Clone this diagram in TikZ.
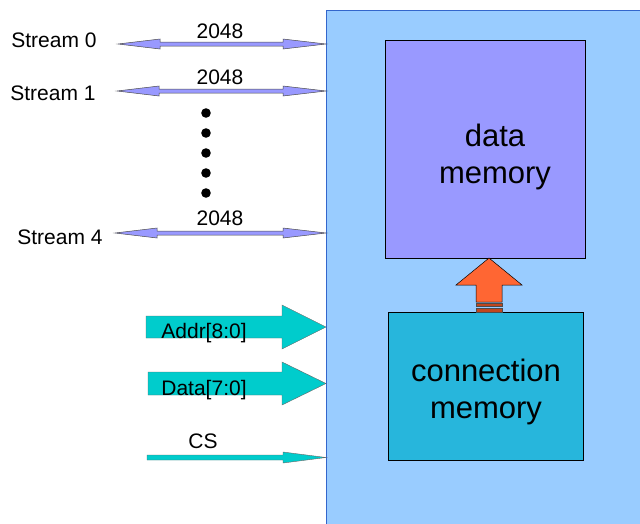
\documentclass[tikz,border=0pt]{standalone}
\usepackage{fontspec}
\setmainfont{Liberation Sans}
\definecolor{bgblue}{HTML}{99CCFF}
\definecolor{edgeblue}{HTML}{3366CC}
\definecolor{lav}{HTML}{9999FF}
\definecolor{cmem}{HTML}{27B6DC}
\definecolor{cyanar}{HTML}{00CCCC}
\definecolor{orng}{HTML}{FF6633}
\definecolor{dorng}{HTML}{C0461E}
\newcommand{\dblarr}[3]{% left x, right x, y
  \filldraw[fill=lav,draw=black!70,line width=0.5pt]
   (#1,#3) -- (#1+42,#3-5) -- (#1+42,#3-2) -- (#2-43,#3-2) -- (#2-43,#3-5) -- (#2,#3)
   -- (#2-43,#3+5) -- (#2-43,#3+2) -- (#1+42,#3+2) -- (#1+42,#3+5) -- cycle;}
\tikzset{lbl/.style={font=\fontsize{21}{25}\selectfont,inner sep=0pt},
  big/.style={font=\fontsize{31}{37}\selectfont,align=center,inner sep=0pt},
  fat/.style={fill=cyanar,draw=black!60,line width=0.4pt}}
\begin{document}
\begin{tikzpicture}[x=1pt,y=-1pt]
\useasboundingbox (0,0) rectangle (640,523);
% main block
\filldraw[fill=bgblue,draw=edgeblue,line width=0.8pt] (326,10) rectangle (660,540);
\node[draw=black,fill=lav,line width=0.5pt,minimum width=200pt,minimum height=218pt,anchor=north west,inner sep=0pt] (dm) at (385,40) {};
\node[big] (dmt) at (495,157) {data\\memory};
\node[draw=black,fill=cmem,line width=0.5pt,minimum width=195pt,minimum height=148pt,anchor=north west,inner sep=0pt] (cm) at (388,312) {};
\node[big] (cmt) at (486,392) {connection\\memory};
% orange arrow
\filldraw[fill=orng,draw=black,line width=0.5pt] (489,258) -- (522,285) -- (502,285) -- (502,302) -- (476,302) -- (476,285) -- (456,285) -- cycle;
\filldraw[fill=dorng,draw=black!70,line width=0.4pt] (476,303.5) rectangle (502,306.5);
\filldraw[fill=dorng,draw=black!70,line width=0.4pt] (476,308) rectangle (502,312);
% streams
\dblarr{118}{326}{44}
\dblarr{117}{326}{91}
\dblarr{115}{326}{233}
\node[lbl] (s0) at (54,40) {Stream 0};
\node[lbl] (s1) at (53,93) {Stream 1};
\node[lbl] (s4) at (60,237) {Stream 4};
\node[lbl] (n0) at (220,31) {2048};
\node[lbl] (n1) at (220,77) {2048};
\node[lbl] (n4) at (220,218) {2048};
\foreach \yy in {113,133,153,173,193} \fill (206,\yy) circle (4.8);
% addr / data
\filldraw[fat] (146,316) -- (282,316) -- (282,305) -- (326,327) -- (282,349) -- (282,338) -- (146,338) -- cycle;
\node[lbl] (ad) at (204,333) {Addr[8:0]};
\filldraw[fat] (148,372) -- (282,372) -- (282,362) -- (326,383.5) -- (282,405) -- (282,395) -- (148,395) -- cycle;
\node[lbl] (da) at (204,390) {Data[7:0]};
\filldraw[fat] (147,455) -- (283,455) -- (283,452) -- (326,457.5) -- (283,463) -- (283,460) -- (147,460) -- cycle;
\node[lbl] (cs) at (203,441) {CS};
\end{tikzpicture}
\end{document}
